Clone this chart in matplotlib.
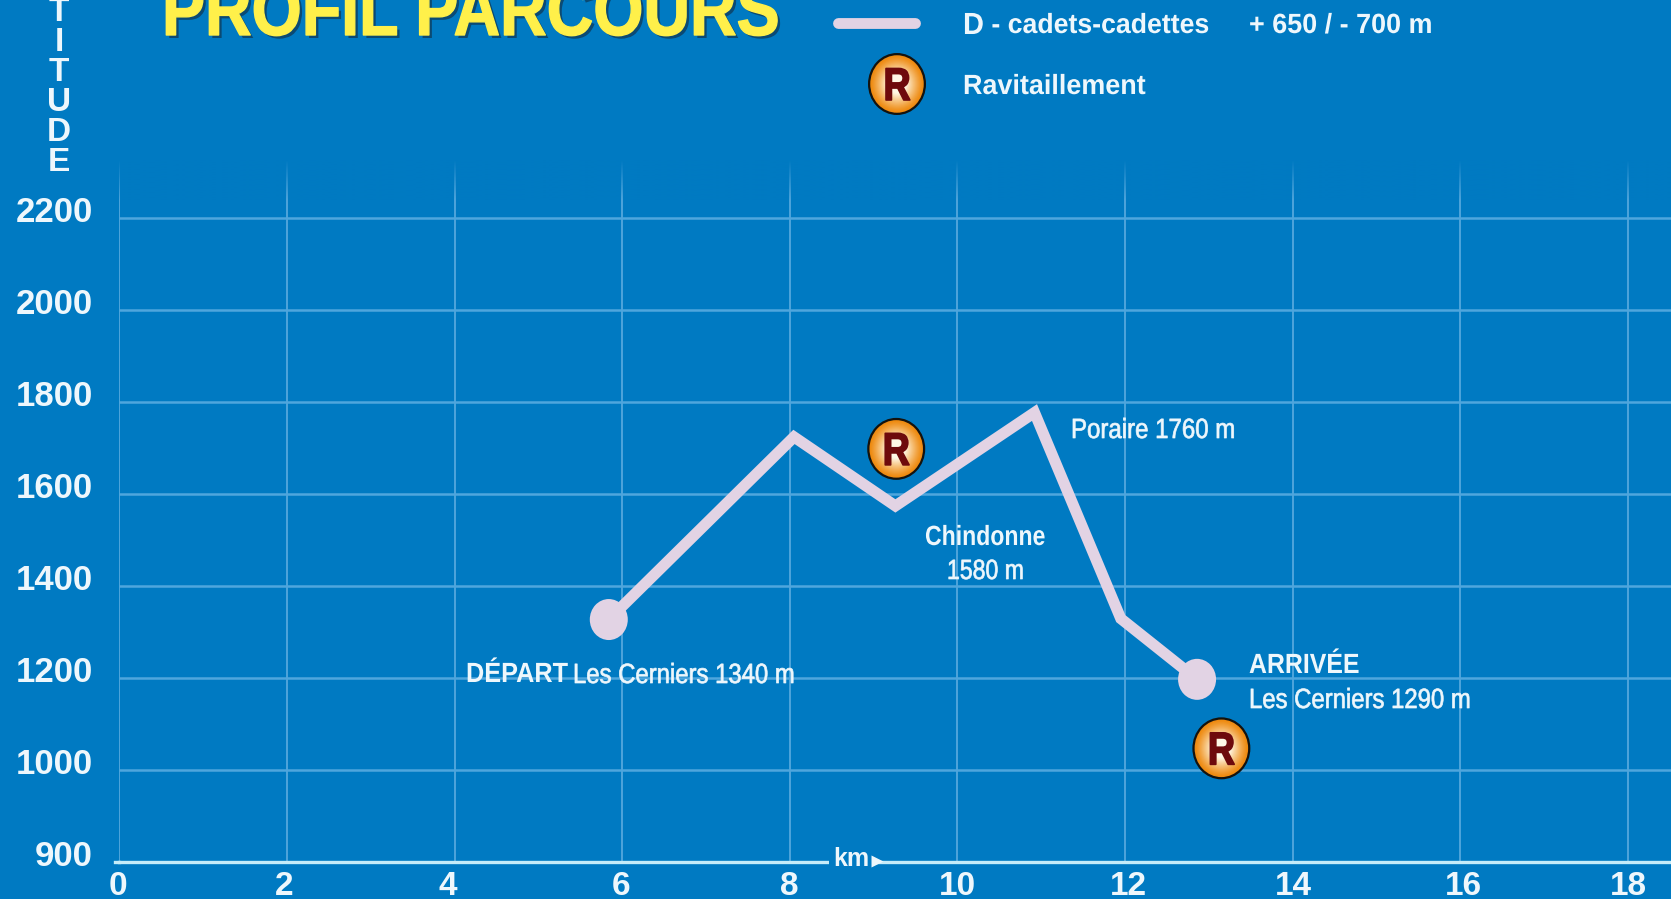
import matplotlib
matplotlib.use("Agg")
import matplotlib.pyplot as plt
import numpy as np
from matplotlib.patches import Ellipse
from matplotlib.transforms import Affine2D, ScaledTranslation
import matplotlib.patheffects as pe
from matplotlib.colors import to_rgb

# ---- data -------------------------------------------------------------
km = [5.84, 8.05, 9.26, 10.92, 11.95, 12.86]
altitude = [1326, 1723, 1573, 1776, 1328, 1196]
ravito_km = [9.27, 13.15]
ravito_alt = [1697, 1046]
x_ticks = [0, 2, 4, 6, 8, 10, 12, 14, 16, 18]
# the lowest step of the printed scale is labelled 900 but spans a full grid step
y_ticks = [800, 1000, 1200, 1400, 1600, 1800, 2000, 2200]
y_tick_labels = ["900", "1000", "1200", "1400", "1600", "1800", "2000", "2200"]

BG = "#007AC2"
GRID = "#4FA6DD"
GRIDV = "#5CACE0"
AXIS = "#C5ECF9"
TXT = "#EEF7FC"
LINE = "#E2D3E4"
WIDE = ["Liberation Sans", "DejaVu Sans"]


class Condense(pe.AbstractPathEffect):
    """Draws a text narrowed horizontally from its starting point."""

    def __init__(self, sx, shadow=None, stroke=0.0):
        super().__init__()
        self.sx, self.shadow, self.stroke = sx, shadow, stroke

    def draw_path(self, renderer, gc, tpath, affine, rgbFace=None):
        tr = Affine2D().scale(self.sx, 1) + affine
        gc0 = renderer.new_gc()
        gc0.copy_properties(gc)
        if self.shadow is not None:
            gc0.set_linewidth(0)
            renderer.draw_path(gc0, tpath, tr + Affine2D().translate(3, -3), to_rgb(self.shadow))
        gc0.set_foreground(rgbFace)
        gc0.set_linewidth(self.stroke)
        renderer.draw_path(gc0, tpath, tr, rgbFace)
        gc0.restore()


W, H = 1671, 899
fig = plt.figure(figsize=(W / 100, H / 100), dpi=100, facecolor=BG)
L, R_, T, B = 119.4, W, 160, 861.5
ax = fig.add_axes([L / W, 1 - B / H, (R_ - L) / W, (B - T) / H], facecolor=BG)
ax.set_xlim(0, (R_ - L) / 83.8)
ax.set_ylim(800, 800 + (B - T) / 0.46)

page = Affine2D().scale(1, -1).translate(0, H)  # px from the top left corner

for s in ["top", "right", "left"]:
    ax.spines[s].set_visible(False)
ax.spines["bottom"].set_color(AXIS)
ax.spines["bottom"].set_linewidth(2.4)
ax.set_xticks(x_ticks)
ax.set_yticks(y_ticks)
ax.set_yticklabels(y_tick_labels)
ax.tick_params(length=0)
ax.tick_params(axis="x", pad=7, labelsize=24, labelcolor=TXT)
ax.tick_params(axis="y", pad=19, labelsize=25, labelcolor=TXT)
for lab in ax.get_xticklabels() + ax.get_yticklabels():
    lab.set_fontfamily(WIDE)
    lab.set_fontweight("bold")
off = ScaledTranslation(0, 8.5 / 100, fig.dpi_scale_trans)
for lab in ax.get_yticklabels():
    lab.set_transform(lab.get_transform() + off)
for lab, dx in zip(ax.get_xticklabels(), [-1, -3, -7, -1, -1, 0, 3, 1, 3, 1]):
    lab.set_transform(lab.get_transform() + ScaledTranslation(dx / 100, 0, fig.dpi_scale_trans))
ax.set_axisbelow(True)
ax.grid(axis="x", color=GRIDV, lw=1.2)
ax.grid(axis="y", color=GRID, lw=1.8)
ax.yaxis.get_gridlines()[0].set_visible(False)
ax.plot([-4 / 83.8, 0], [800, 800], color=AXIS, lw=2.4, clip_on=False, zorder=2)

# fade of the vertical grid lines at their top
fade = np.zeros((64, 2, 4))
fade[..., :3] = to_rgb(BG)
fade[..., 3] = np.linspace(1, 0, 64)[:, None]
xl, yl = ax.get_xlim(), ax.get_ylim()
ax.imshow(fade, extent=(xl[0], xl[1], yl[1] - 40 / 0.46, yl[1]), aspect="auto", zorder=1)
ax.set_xlim(xl)
ax.set_ylim(yl)

# profile
ax.plot(km, altitude, color=LINE, lw=8.0, solid_joinstyle="miter", zorder=3)
for i in (0, -1):
    cx, cy = ax.transData.transform((km[i], altitude[i]))
    fig.add_artist(Ellipse((cx, cy), 38, 41, transform=None, fc=LINE, ec="none", zorder=4))


def badge(cx, cy):
    """orange R badge, centre in display px"""
    fig.add_artist(Ellipse((cx, cy), 58, 62, transform=None, fc="#14130F", ec="none", zorder=5))
    c0 = np.array(to_rgb("#EE8A10"))
    c1 = np.array(to_rgb("#FFF8E6"))
    for f in np.linspace(0, 1, 26):
        k = 1 - f
        col = c0 * (1 - min(1, f * 1.5) ** 1.2) + c1 * min(1, f * 1.5) ** 1.2
        fig.add_artist(Ellipse((cx, cy), 53 * k + 0.5, 57 * k + 0.5, transform=None,
                               fc=col, ec="none", zorder=5.1))
    fig.text(cx - 13.5, cy - 16, "R", transform=None, color="#6E0A0C", fontsize=33, fontweight="bold",
             family=WIDE, ha="left", va="baseline", zorder=6,
             path_effects=[Condense(0.82, stroke=1.2)])


for xv, yv in zip(ravito_km, ravito_alt):
    badge(*ax.transData.transform((xv, yv)))
badge(897, H - 84)


def t(x, y, s, sx, bold=False, size=20):
    return fig.text(x, y, s, transform=page, color=TXT, fontsize=size, ha="left", va="center",
                    fontweight="bold" if bold else "normal", family=WIDE, zorder=7,
                    path_effects=[Condense(sx, stroke=0.5 if not bold else 0.0)])


# title
fig.text(162, 35, "PROFIL PARCOURS", transform=page, color="#FFF04A", fontsize=54, fontweight="bold",
         family=WIDE, ha="left", va="baseline", zorder=7,
         path_effects=[Condense(0.86, shadow="#0B4A73", stroke=1.0)])

# vertical axis title, its head runs off the sheet
fig.text(59, 178, "A\nL\nT\nI\nT\nU\nD\nE", transform=page, color=TXT, fontsize=24, fontweight="bold",
         family=WIDE, ha="center", va="bottom", multialignment="center", linespacing=0.96, zorder=7)

# legend
fig.add_artist(plt.Line2D([838, 915], [H - 23, H - 23], transform=None, color=LINE, lw=7.8,
                          solid_capstyle="round", zorder=5))
t(963, 26, "D", 0.95, bold=True, size=22)
t(984, 26, " - cadets-cadettes", 0.96, bold=True)
t(1249, 26, "+ 650 / - 700 m", 0.97, bold=True)
t(963, 87, "Ravitaillement", 0.97, bold=True)

# annotations
t(466, 675, "DÉPART", 0.91, bold=True)
t(573, 676, "Les Cerniers 1340 m", 0.86)
t(1071, 431, "Poraire 1760 m", 0.865)
t(925, 538, "Chindonne", 0.83, bold=True)
t(947, 572, "1580 m", 0.83)
t(1249, 666, "ARRIVÉE", 0.895, bold=True)
t(1249, 701, "Les Cerniers 1290 m", 0.86)

# km mark interrupts the axis line
fig.text(851, 859, "km", transform=page, color=TXT, fontsize=18, fontweight="bold", family=WIDE,
         ha="center", va="center", zorder=7,
         bbox=dict(fc=BG, ec="none", pad=3))
fig.add_artist(plt.Line2D([877], [H - 861], transform=None, marker=">", ms=8, color=TXT, mec="none", zorder=8))

fig.savefig("out.png", dpi=100, facecolor=BG)
